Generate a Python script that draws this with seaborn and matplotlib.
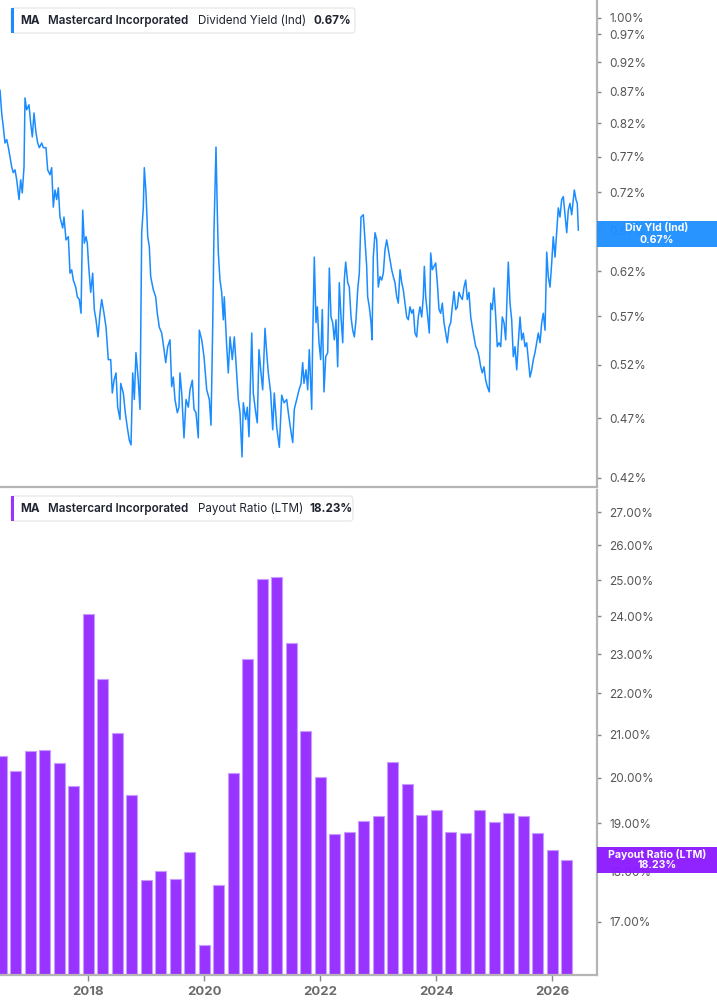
import numpy as np
import pandas as pd
import seaborn as sns
import matplotlib.pyplot as plt
from matplotlib.ticker import FixedLocator, FuncFormatter, NullLocator
from matplotlib.patches import FancyBboxPatch, Rectangle

sns.set_theme(style="white")
plt.rcParams["font.family"] = ["Inter", "DejaVu Sans"]

# dividend yield (%), x in decimal years
yld_years = [
    2016.480, 2016.509, 2016.537, 2016.566, 2016.596, 2016.623, 2016.652, 2016.682, 2016.709, 2016.739,
    2016.768, 2016.808, 2016.837, 2016.864, 2016.894, 2016.911, 2016.940, 2016.980, 2017.009, 2017.037,
    2017.066, 2017.101, 2017.130, 2017.158, 2017.199, 2017.227, 2017.273, 2017.302, 2017.342, 2017.371,
    2017.399, 2017.428, 2017.458, 2017.485, 2017.514, 2017.561, 2017.583, 2017.618, 2017.658, 2017.687,
    2017.716, 2017.744, 2017.785, 2017.813, 2017.847, 2017.877, 2017.906, 2017.933, 2017.963, 2017.985,
    2018.009, 2018.044, 2018.078, 2018.106, 2018.135, 2018.170, 2018.204, 2018.233, 2018.273, 2018.308,
    2018.347, 2018.389, 2018.416, 2018.446, 2018.480, 2018.509, 2018.549, 2018.561, 2018.606, 2018.640,
    2018.675, 2018.709, 2018.739, 2018.768, 2018.796, 2018.824, 2018.864, 2018.894, 2018.906, 2018.923,
    2018.951, 2018.968, 2018.997, 2019.027, 2019.054, 2019.078, 2019.123, 2019.164, 2019.192, 2019.227,
    2019.268, 2019.308, 2019.337, 2019.371, 2019.411, 2019.440, 2019.468, 2019.497, 2019.537, 2019.566,
    2019.583, 2019.613, 2019.652, 2019.687, 2019.727, 2019.756, 2019.796, 2019.825, 2019.859, 2019.899,
    2019.916, 2019.958, 2019.997, 2020.044, 2020.089, 2020.118, 2020.147, 2020.170, 2020.204, 2020.227,
    2020.244, 2020.273, 2020.302, 2020.330, 2020.347, 2020.389, 2020.416, 2020.446, 2020.485, 2020.520,
    2020.549, 2020.589, 2020.618, 2020.653, 2020.675, 2020.716, 2020.744, 2020.773, 2020.820, 2020.847,
    2020.889, 2020.916, 2020.945, 2020.980, 2021.009, 2021.049, 2021.078, 2021.106, 2021.147, 2021.182,
    2021.209, 2021.251, 2021.296, 2021.337, 2021.377, 2021.423, 2021.451, 2021.492, 2021.527, 2021.554,
    2021.596, 2021.636, 2021.670, 2021.699, 2021.721, 2021.756, 2021.785, 2021.813, 2021.854, 2021.871,
    2021.899, 2021.928, 2021.951, 2021.980, 2022.009, 2022.037, 2022.066, 2022.096, 2022.130, 2022.158,
    2022.187, 2022.216, 2022.244, 2022.273, 2022.302, 2022.330, 2022.359, 2022.389, 2022.416, 2022.440,
    2022.475, 2022.502, 2022.532, 2022.561, 2022.589, 2022.618, 2022.647, 2022.675, 2022.704, 2022.744,
    2022.773, 2022.802, 2022.819, 2022.847, 2022.877, 2022.894, 2022.916, 2022.946, 2022.975, 2023.002,
    2023.032, 2023.061, 2023.089, 2023.118, 2023.147, 2023.175, 2023.204, 2023.233, 2023.261, 2023.290,
    2023.320, 2023.347, 2023.377, 2023.406, 2023.433, 2023.463, 2023.492, 2023.520, 2023.549, 2023.578,
    2023.606, 2023.635, 2023.664, 2023.692, 2023.721, 2023.751, 2023.778, 2023.796, 2023.820, 2023.854,
    2023.882, 2023.906, 2023.933, 2023.963, 2023.992, 2024.020, 2024.049, 2024.078, 2024.106, 2024.135,
    2024.164, 2024.192, 2024.221, 2024.251, 2024.278, 2024.307, 2024.337, 2024.364, 2024.394, 2024.423,
    2024.451, 2024.480, 2024.509, 2024.537, 2024.566, 2024.596, 2024.623, 2024.652, 2024.682, 2024.709,
    2024.739, 2024.768, 2024.796, 2024.825, 2024.854, 2024.882, 2024.916, 2024.940, 2024.968, 2024.997,
    2025.027, 2025.054, 2025.083, 2025.113, 2025.140, 2025.169, 2025.199, 2025.226, 2025.244, 2025.273,
    2025.302, 2025.330, 2025.359, 2025.389, 2025.416, 2025.446, 2025.475, 2025.502, 2025.532, 2025.561,
    2025.589, 2025.618, 2025.647, 2025.675, 2025.704, 2025.733, 2025.761, 2025.791, 2025.820, 2025.847,
    2025.877, 2025.906, 2025.933, 2025.963, 2025.992, 2026.019, 2026.049, 2026.078, 2026.106, 2026.135,
    2026.164, 2026.192, 2026.221, 2026.251, 2026.278, 2026.307, 2026.337, 2026.364, 2026.382, 2026.411,
    2026.433, 2026.451,
]
yld_values = [
    0.873, 0.836, 0.814, 0.790, 0.795, 0.784, 0.770, 0.755, 0.747, 0.751,
    0.737, 0.710, 0.737, 0.719, 0.755, 0.860, 0.841, 0.849, 0.820, 0.799,
    0.836, 0.805, 0.790, 0.783, 0.790, 0.783, 0.783, 0.751, 0.744, 0.754,
    0.700, 0.723, 0.710, 0.726, 0.687, 0.673, 0.687, 0.658, 0.662, 0.618,
    0.622, 0.610, 0.602, 0.591, 0.588, 0.573, 0.696, 0.654, 0.662, 0.654,
    0.626, 0.596, 0.618, 0.577, 0.566, 0.548, 0.573, 0.588, 0.573, 0.558,
    0.525, 0.525, 0.493, 0.505, 0.512, 0.480, 0.469, 0.502, 0.493, 0.475,
    0.462, 0.451, 0.447, 0.512, 0.487, 0.532, 0.505, 0.478, 0.548, 0.667,
    0.700, 0.754, 0.719, 0.662, 0.650, 0.614, 0.599, 0.591, 0.573, 0.558,
    0.552, 0.535, 0.522, 0.538, 0.545, 0.499, 0.508, 0.487, 0.475, 0.480,
    0.512, 0.493, 0.453, 0.487, 0.480, 0.496, 0.505, 0.478, 0.475, 0.453,
    0.555, 0.545, 0.528, 0.496, 0.487, 0.464, 0.558, 0.671, 0.784, 0.692,
    0.642, 0.610, 0.596, 0.566, 0.591, 0.538, 0.512, 0.548, 0.525, 0.548,
    0.522, 0.487, 0.475, 0.437, 0.484, 0.469, 0.480, 0.454, 0.552, 0.493,
    0.475, 0.466, 0.535, 0.512, 0.496, 0.557, 0.532, 0.512, 0.493, 0.460,
    0.493, 0.462, 0.445, 0.491, 0.484, 0.487, 0.475, 0.460, 0.449, 0.478,
    0.487, 0.496, 0.502, 0.522, 0.502, 0.515, 0.496, 0.535, 0.478, 0.545,
    0.637, 0.563, 0.580, 0.542, 0.525, 0.577, 0.494, 0.528, 0.532, 0.624,
    0.569, 0.563, 0.545, 0.566, 0.518, 0.607, 0.569, 0.542, 0.610, 0.631,
    0.607, 0.602, 0.569, 0.555, 0.548, 0.566, 0.599, 0.618, 0.687, 0.690,
    0.658, 0.626, 0.591, 0.580, 0.563, 0.545, 0.637, 0.667, 0.658, 0.602,
    0.614, 0.610, 0.618, 0.646, 0.658, 0.646, 0.634, 0.622, 0.614, 0.607,
    0.591, 0.584, 0.622, 0.607, 0.599, 0.584, 0.569, 0.566, 0.580, 0.573,
    0.577, 0.552, 0.548, 0.569, 0.580, 0.569, 0.591, 0.626, 0.591, 0.569,
    0.552, 0.642, 0.622, 0.626, 0.630, 0.607, 0.577, 0.573, 0.584, 0.563,
    0.552, 0.542, 0.558, 0.563, 0.580, 0.597, 0.577, 0.580, 0.596, 0.591,
    0.588, 0.602, 0.610, 0.588, 0.596, 0.569, 0.558, 0.548, 0.538, 0.535,
    0.528, 0.518, 0.512, 0.518, 0.505, 0.499, 0.494, 0.584, 0.577, 0.601,
    0.569, 0.538, 0.542, 0.538, 0.569, 0.563, 0.545, 0.599, 0.631, 0.584,
    0.566, 0.528, 0.538, 0.515, 0.542, 0.569, 0.545, 0.552, 0.538, 0.542,
    0.525, 0.508, 0.515, 0.525, 0.532, 0.542, 0.552, 0.542, 0.563, 0.573,
    0.555, 0.643, 0.614, 0.602, 0.630, 0.662, 0.637, 0.668, 0.699, 0.687,
    0.710, 0.714, 0.690, 0.667, 0.696, 0.705, 0.690, 0.710, 0.723, 0.710,
    0.705, 0.670,
]

# payout ratio (LTM, %) per quarter
payout_quarters = pd.period_range("2016Q3", "2026Q2", freq="Q")
payout_values = [
    20.50, 20.15, 20.61, 20.64, 20.34, 19.82, 24.07, 22.35, 21.05, 19.62,
    17.83, 18.01, 17.84, 18.39, 16.57, 17.72, 20.11, 22.88, 25.03, 25.08,
    23.28, 21.08, 20.03, 18.77, 18.81, 19.05, 19.16, 20.37, 19.87, 19.19,
    19.28, 18.82, 18.79, 19.29, 19.02, 19.22, 19.16, 18.80, 18.43, 18.23,
]
payout_x = [p.year + (p.quarter - 3) * 0.25 + 0.5 for p in payout_quarters]

yld_ticks = [0.42, 0.47, 0.52, 0.57, 0.62, 0.67, 0.72, 0.77, 0.82, 0.87, 0.92, 0.97, 1.00]
payout_ticks = [17, 18, 19, 20, 21, 22, 23, 24, 25, 26, 27]
year_ticks = [2018, 2020, 2022, 2024, 2026]

blue = "#1a8cff"
purple = "#9933ff"
grey = "#b5b5b5"
W, H = 717, 1005

fig = plt.figure(figsize=(W / 100, H / 100), dpi=100)
ax1 = fig.add_axes([0, 1 - 487 / H, 597 / W, 487 / H])
ax2 = fig.add_axes([0, 1 - 975 / H, 597 / W, 485 / H])

sns.lineplot(x=yld_years, y=yld_values, ax=ax1, color=blue, linewidth=1.1, estimator=None)
ax1.set_yscale("log")
ax1.set_ylim(0.4129, 1.0345)

ax2.set_yscale("log")
sns.barplot(x=payout_x, y=payout_values, ax=ax2, native_scale=True, color=purple,
            saturation=1, width=0.76, errorbar=None, edgecolor="#c79cff", linewidth=0.8)
ax2.set_ylim(16.01, 27.68)

pct = FuncFormatter(lambda v, _: f"{v:.2f}%")
for ax, ticks in [(ax1, yld_ticks), (ax2, payout_ticks)]:
    ax.set_xlim(2016.48, 2026.773)
    ax.set_xlabel("")
    ax.set_ylabel("")
    ax.yaxis.tick_right()
    ax.yaxis.set_major_locator(FixedLocator(ticks))
    ax.yaxis.set_major_formatter(pct)
    ax.yaxis.set_minor_locator(NullLocator())
    ax.tick_params(axis="y", which="major", direction="out", length=3, width=1,
                   color="#888888", labelcolor="#555555", labelsize=8.5, pad=6, right=True, left=False)
    for s in ["left", "top"]:
        ax.spines[s].set_visible(False)
    for s in ["right", "bottom"]:
        ax.spines[s].set_color(grey)
        ax.spines[s].set_linewidth(1.6)

ax1.set_xticks([])
ax2.xaxis.set_major_locator(FixedLocator(year_ticks))
ax2.xaxis.set_major_formatter(FuncFormatter(lambda v, _: f"{int(v)}"))
ax2.xaxis.set_minor_locator(NullLocator())
ax2.tick_params(axis="x", direction="out", length=4, width=1, color="#888888",
                labelcolor="#6b6b6b", labelsize=9.5, pad=4, bottom=True)
for lbl in ax2.get_xticklabels():
    lbl.set_fontweight("bold")


def fx(x):
    return x / W


def fy(y):
    return 1 - y / H


def legend_box(top, right, color, parts):
    box = FancyBboxPatch((fx(11), fy(top + 25)), fx(right - 11), 25 / H,
                         boxstyle="round,pad=0,rounding_size=0.004", transform=fig.transFigure,
                         facecolor="white", edgecolor="#e4e4e4", linewidth=0.8, zorder=5)
    fig.add_artist(box)
    fig.add_artist(Rectangle((fx(11), fy(top + 25)), 3 / W, 25 / H, transform=fig.transFigure,
                             facecolor=color, edgecolor="none", zorder=6))
    for x, txt, weight in parts:
        fig.text(fx(x), fy(top + 13), txt, ha="left", va="center", fontsize=8.4,
                 fontweight=weight, color="#1f2430", zorder=7)


legend_box(8, 355, blue, [(20.5, "MA", "bold"), (47.5, "Mastercard Incorporated", "semibold"),
                          (198, "Dividend Yield (Ind)", "normal"), (313, "0.67%", "bold")])
legend_box(496, 353, purple, [(20.5, "MA", "bold"), (47.5, "Mastercard Incorporated", "semibold"),
                              (198, "Payout Ratio (LTM)", "normal"), (309, "18.23%", "bold")])


def value_tag(top, bottom, color, line1, line2):
    fig.add_artist(Rectangle((fx(597), fy(bottom)), (W - 597) / W, (bottom - top) / H,
                             transform=fig.transFigure, facecolor=color, edgecolor="none",
                             alpha=0.96, zorder=8))
    mid = (top + bottom) / 2
    fig.text(fx(657), fy(mid - 5.5), line1, ha="center", va="center", fontsize=7.6,
             fontweight="bold", color="white", zorder=9)
    fig.text(fx(657), fy(mid + 5.5), line2, ha="center", va="center", fontsize=7.6,
             fontweight="bold", color="white", zorder=9)


value_tag(221, 247, "#1e90ff", "Div Yld (Ind)", "0.67%")
value_tag(847, 873, "#8c1aff", "Payout Ratio (LTM)", "18.23%")

fig.savefig("out.png", dpi=100, facecolor="white")
